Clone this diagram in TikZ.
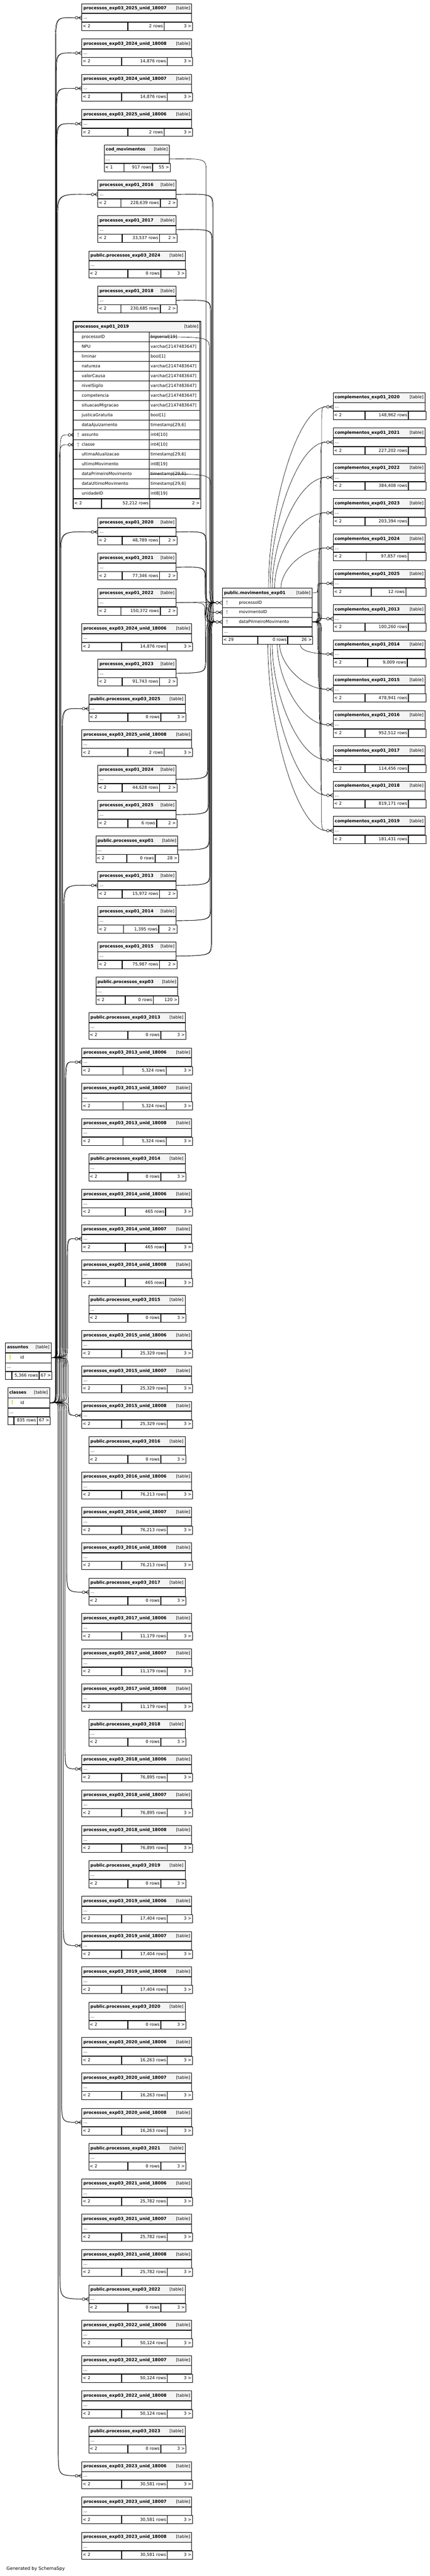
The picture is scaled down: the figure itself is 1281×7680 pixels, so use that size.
\documentclass[tikz,border=0pt]{standalone}
\usepackage{fontspec}
\setmainfont{DejaVu Sans}
\usetikzlibrary{calc}
\setlength{\parindent}{0pt}

\definecolor{hdrgray}{RGB}{244,244,244}
\definecolor{keygold}{RGB}{215,215,0}
\definecolor{keygray}{RGB}{165,165,165}
\newcommand{\tabfont}{\fontsize{12.5}{14}\selectfont}
\def\tabpar{<~2}

\tikzset{
  tcell/.style={draw=black, line width=1.1pt, anchor=north west, inner xsep=5pt, inner ysep=0pt,
    font=\tabfont, text height=9.5pt, text depth=2.5pt, align=left},
  hdr/.style={tcell, fill=hdrgray, minimum height=29pt},
  dotrow/.style={tcell, minimum height=24.5pt},
  tfoot/.style={tcell, inner xsep=3pt, minimum height=24.5pt},
  oring/.style={circle, draw=black, fill=white, line width=1.1pt, inner sep=0pt, minimum size=8pt},
  crowline/.style={draw=black, line width=1.1pt},
  fkline/.style={draw=black, line width=1pt},
  pkey/.pic={\fill (0,-3.5) circle (2.8); \draw[line width=1.7pt] (0,-1) -- (0,6.5); \draw[line width=1.4pt] (0,3.8) -- (2,3.8);}
}

\newcommand{\toprow}[1]{\pgfmathsetmacro\tp{#1<11 ? 10+(#1-1)*105.33 : 1543+(#1-11)*105.37}}

\newcommand{\tabsmall}[9]{%
  \pgfmathsetmacro\tw{#3-#2-10}%
  \pgfmathsetmacro\wa{#8-#2-6}%
  \pgfmathsetmacro\wb{#9-#8-6}%
  \pgfmathsetmacro\wc{#3-#9-6}%
  \node[hdr, text width=\tw pt] (#1-h) at (#2,#4) {\makebox[\hsize]{\textbf{#5}\hfill[table]}};
  \node[dotrow, text width=\tw pt] (#1-d) at (#1-h.south west) {...};
  \node[tfoot, text width=\wa pt] (#1-fa) at (#1-d.south west) {\tabpar};
  \node[tfoot, text width=\wb pt, align=right] (#1-fb) at (#1-fa.north east) {#6~rows};
  \node[tfoot, text width=\wc pt, align=right] (#1-fc) at (#1-fb.north east) {#7};
}

\newcommand{\crowat}[3]{%
  \node[oring] (#1) at ($(#2.west)+(-#3,0)$) {};
  \draw[crowline] (#1.east) -- ($(#2.west)+(0,-5.5)$)
    (#1.east) -- (#2.west)
    (#1.east) -- ($(#2.west)+(0,5.5)$);
}

\newcommand{\fk}[6]{%
  \pgfmathsetmacro\ra{max(-#6,min(#6,(#4-#2)/2))}%
  \pgfmathsetmacro\rb{max(-2*#6,min(2*#6,(#4-#2)/2))}%
  \pgfmathsetmacro\ya{#2+\ra}%
  \pgfmathsetmacro\yb{#4-\rb}%
  \draw[fkline] (#1) .. controls (#5,#2) .. (#5,\ya) -- (#5,\yb) .. controls (#5,#4) .. (#3);
}

\begin{document}
\begin{tikzpicture}[x=1pt, y=-1pt]
\fill[white] (0,0) rectangle (1281,7680);
\useasboundingbox (0,0) rectangle (1281,7680);

\foreach \i/\xl/\xr/\ttl/\rw/\kd/\sa/\sb in {
  1/243/570.5/processos\_exp03\_2025\_unid\_18007/2/3/380/487,
  2/243/570.5/processos\_exp03\_2024\_unid\_18008/{14,876}/3/361/496,
  3/243/570.5/processos\_exp03\_2024\_unid\_18007/{14,876}/3/361/496,
  4/243/570.5/processos\_exp03\_2025\_unid\_18006/2/3/380/487,
  5/310/504/cod\_movimentos/917/55/368/452,
  6/291/524/processos\_exp01\_2016/{228,639}/2/359/475,
  7/291/524/processos\_exp01\_2017/{33,537}/2/362.5/473,
  8/264/551/public.processos\_exp03\_2024/0/3/380/477,
  9/291/524/processos\_exp01\_2018/{230,685}/2/359/475,
  11/291/524/processos\_exp01\_2020/{48,789}/2/362.5/473,
  12/291/524/processos\_exp01\_2021/{77,346}/2/362.5/473,
  13/291/524/processos\_exp01\_2022/{150,372}/2/359/475,
  14/243/570.5/processos\_exp03\_2024\_unid\_18006/{14,876}/3/361/496,
  15/291/524/processos\_exp01\_2023/{91,743}/2/362.5/473,
  16/264/551/public.processos\_exp03\_2025/0/3/380/477,
  17/243/570.5/processos\_exp03\_2025\_unid\_18008/2/3/380/487,
  18/291/524/processos\_exp01\_2024/{44,628}/2/362.5/473,
  19/291/524/processos\_exp01\_2025/6/2/379.5/464,
  20/285/529/public.processos\_exp01/0/28/376/460,
  21/291/524/processos\_exp01\_2013/{15,972}/2/362.5/473,
  22/291/524/processos\_exp01\_2014/{1,395}/2/366.5/470.5,
  23/291/524/processos\_exp01\_2015/{75,987}/2/362.5/473,
  24/285/529/public.processos\_exp03/0/120/372/454.5} {
  \toprow{\i}
  \ifnum\i=5 \def\tabpar{<~1}\fi
  \tabsmall{t\i}{\xl}{\xr}{\tp}{\ttl}{\rw}{\kd~>}{\sa}{\sb}
}

\foreach \yr/\rw/\sa/\sb [count=\n from 0] in {2013/{5,324}/365/493, 2014/465/372/491,
  2015/{25,329}/361/496, 2016/{76,213}/361/496, 2017/{11,179}/361/496, 2018/{76,895}/361/496,
  2019/{17,404}/361/496, 2020/{16,263}/361/496, 2021/{25,782}/361/496, 2022/{50,124}/361/496,
  2023/{30,581}/361/496} {
  \pgfmathtruncatemacro\ip{25+4*\n}
  \toprow{\ip}
  \tabsmall{t\ip}{264}{551}{\tp}{public.processos\_exp03\_\yr}{0}{3~>}{380}{477}
  \foreach \u [count=\m] in {18006,18007,18008} {
    \pgfmathtruncatemacro\iu{\ip+\m}
    \toprow{\iu}
    \tabsmall{t\iu}{243}{570.5}{\tp}{processos\_exp03\_\yr\_unid\_\u}{\rw}{3~>}{\sa}{\sb}
  }
}

\node[hdr, text width=367pt, minimum height=31pt] (t10-h) at (218,958.5) {\makebox[\hsize]{\textbf{processos\_exp01\_2019}\hfill[table]}};
\foreach \nm/\ty [count=\j] in {processoID/bigserial[19], NPU/varchar[2147483647], liminar/bool[1],
  natureza/varchar[2147483647], valorCausa/varchar[2147483647], nivelSigilo/varchar[2147483647],
  competencia/varchar[2147483647], situacaoMigracao/varchar[2147483647], justicaGratuita/bool[1],
  dataAjuizamento/{timestamp[29,6]}, assunto/int4[10], classe/int4[10], ultimaAtualizacao/{timestamp[29,6]},
  ultimoMovimento/int8[19], dataPrimeiroMovimento/{timestamp[29,6]}, dataUltimoMovimento/{timestamp[29,6]},
  unidadeID/int8[19]} {
  \pgfmathsetmacro\ry{989.5+(\j-1)*29.2}
  \node[tcell, text width=216pt, minimum height=29.2pt] (t10-r\j) at (218,\ry) {\hspace*{20pt}\nm};
  \node[tcell, inner xsep=4pt, text width=143pt, minimum height=29.2pt] (t10-y\j) at (444,\ry) {\ty};
}
\node[tfoot, text width=77pt, minimum height=28pt] (t10-fa) at (t10-r17.south west) {<~2};
\node[tfoot, text width=137pt, minimum height=28pt, align=right] (t10-fb) at (t10-fa.north east) {52,212~rows};
\node[tfoot, text width=145pt, minimum height=28pt, align=right] (t10-fc) at (t10-fb.north east) {2~>};
\draw[line width=3pt] (t10-h.north west) rectangle (t10-fc.south east);
\pic[keygray] at (233,1296.1) {pkey};
\pic[keygray] at (233,1325.3) {pkey};

\node[hdr, text width=257pt, minimum height=29.5pt] (mv-h) at (662,1752.5) {\makebox[\hsize]{\textbf{public.movimentos\_exp01}\hfill[table]}};
\foreach \nm [count=\j] in {processoID, movimentoID, dataPrimeiroMovimento} {
  \pgfmathsetmacro\ry{1782+(\j-1)*28.7}
  \node[tcell, text width=257pt, minimum height=28.7pt] (mv-r\j) at (662,\ry) {\hspace*{44pt}\nm};
  \pic[keygray] at (676,\ry+14.35) {pkey};
}
\node[dotrow, text width=257pt, minimum height=26pt] (mv-d) at (mv-r3.south west) {...};
\node[tfoot, text width=99pt, minimum height=23pt] (mv-fa) at (mv-d.south west) {<~29};
\node[tfoot, text width=82pt, minimum height=23pt, align=right] (mv-fb) at (mv-fa.north east) {0~rows};
\node[tfoot, text width=68pt, minimum height=23pt, align=right] (mv-fc) at (mv-fb.north east) {26~>};

\foreach \yr/\rw/\sa/\sb [count=\k] in {2020/{148,962}/1086/1214.6, 2021/{227,202}/1086/1214.6,
  2022/{384,408}/1086/1214.6, 2023/{203,394}/1086/1214.6, 2024/{97,857}/1090/1213.5, 2025/12/1105/1207,
  2013/{100,260}/1086/1214.6, 2014/{9,009}/1094/1211, 2015/{478,941}/1086/1214.6,
  2016/{952,512}/1086/1214.6, 2017/{114,456}/1086/1214.6, 2018/{819,171}/1086/1214.6,
  2019/{181,431}/1086/1214.6} {
  \pgfmathsetmacro\tp{1170+(\k-1)*105.3}
  \tabsmall{c\k}{992}{1266}{\tp}{complementos\_exp01\_\yr}{\rw}{}{\sa}{\sb}
}

\node[tcell, fill=hdrgray, text width=126.4pt, minimum height=30pt] (as-h) at (15.6,4002) {\makebox[\hsize]{\textbf{assuntos}\hfill[table]}};
\node[tcell, text width=126.4pt, minimum height=29pt] (as-id) at (as-h.south west) {\hspace*{39pt}id};
\node[dotrow, text width=126.4pt] (as-d) at (as-id.south west) {...};
\node[tfoot, text width=11.9pt, minimum height=23.5pt] (as-fa) at (as-d.south west) {};
\node[tfoot, text width=74.8pt, minimum height=23.5pt, align=right] (as-fb) at (as-fa.north east) {5,366~rows};
\node[tfoot, text width=31.7pt, minimum height=23.5pt, align=right] (as-fc) at (as-fb.north east) {67~>};
\pic[keygold] at (30,4046.5) {pkey};

\node[tcell, fill=hdrgray, text width=114.7pt, minimum height=29.8pt] (cl-h) at (22.3,4136.6) {\makebox[\hsize]{\textbf{classes}\hfill[table]}};
\node[tcell, text width=114.7pt, minimum height=28.6pt] (cl-id) at (cl-h.south west) {\hspace*{32.7pt}id};
\node[dotrow, text width=114.7pt, minimum height=25.4pt] (cl-d) at (cl-id.south west) {...};
\node[tfoot, text width=11.7pt, minimum height=23pt] (cl-fa) at (cl-d.south west) {};
\node[tfoot, text width=63pt, minimum height=23pt, align=right] (cl-fb) at (cl-fa.north east) {835~rows};
\node[tfoot, text width=32pt, minimum height=23pt, align=right] (cl-fc) at (cl-fb.north east) {67~>};
\pic[keygold] at (36.6,4180.7) {pkey};

\node[anchor=west, font=\fontsize{13.3}{15}\selectfont] (gen) at (16,7659) {Generated by SchemaSpy};

\foreach \i in {1,...,4,6,...,9,11,...,68} {
  \toprow{\i}
  \pgfmathsetmacro\yt{\tp+41.25}
  \crowat{t\i-o}{t\i-d}{15}
  \pgfmathsetmacro\bx{205-abs(\yt-4046.5)/105}
  \fk{as-id.east}{4046.5}{t\i-o.west}{\yt}{\bx}{40}
  \pgfmathsetmacro\bx{204-abs(\yt-4180.7)/105}
  \fk{cl-id.east}{4180.7}{t\i-o.west}{\yt}{\bx}{40}
}
\crowat{t10-oa}{t10-r11}{11}
\crowat{t10-oc}{t10-r12}{11}
\fk{as-id.east}{4046.5}{t10-oa.west}{1296.1}{179}{40}
\fk{cl-id.east}{4180.7}{t10-oc.west}{1325.3}{177}{40}

\crowat{mv-o1}{mv-r1}{15}
\crowat{mv-o2}{mv-r2}{15}
\crowat{mv-o3}{mv-r3}{15}
\foreach \i in {6,7,9,11,12,13,15,18,19,20,21,22,23} {
  \toprow{\i}
  \pgfmathsetmacro\ys{\tp+41.25}
  \pgfmathsetmacro\bx{608+abs(\ys-1825)/50}
  \fk{t\i-d.east}{\ys}{mv-o1.west}{1796.35}{\bx}{40}
  \pgfmathsetmacro\bx{\bx+2}
  \fk{t\i-d.east}{\ys}{mv-o3.west}{1853.75}{\bx}{40}
}
\fk{t10-r1.east}{1004.1}{mv-o1.west}{1796.35}{624}{40}
\fk{t10-r15.east}{1412.9}{mv-o3.west}{1853.75}{628}{40}
\fk{t5-d.east}{472.6}{mv-o2.west}{1825.05}{614}{40}

\foreach \k in {1,...,13} {
  \pgfmathsetmacro\yt{1170+(\k-1)*105.3+41.25}
  \crowat{c\k-o}{c\k-d}{15}
  \pgfmathsetmacro\bx{944+abs(\yt-1853.75)/45}
  \fk{mv-r3.east}{1853.75}{c\k-o.west}{\yt}{\bx}{30}
}
\foreach \k/\sx in {1/800,2/805,3/811,4/818,5/837} {
  \pgfmathsetmacro\yt{1170+(\k-1)*105.3+41.25}
  \pgfmathsetmacro\ya{1752.5-0.45*(1752.5-\yt)}
  \pgfmathsetmacro\xb{\sx+0.5*(973-\sx)}
  \draw[fkline] ($(mv-h.north west)+(\sx-662,0)$) .. controls (\sx,\ya) and (\xb,\yt) .. (c\k-o.west);
}
\foreach \k/\sx in {9/833,10/826,11/811,12/805,13/798} {
  \pgfmathsetmacro\yt{1170+(\k-1)*105.3+41.25}
  \pgfmathsetmacro\ya{1917.1+0.45*(\yt-1917.1)}
  \pgfmathsetmacro\xb{\sx+0.5*(973-\sx)}
  \draw[fkline] ($(mv-fa.south west)+(\sx-662,0)$) .. controls (\sx,\ya) and (\xb,\yt) .. (c\k-o.west);
}
\fk{mv-h.east}{1767.25}{c6-o.west}{1737.75}{946}{12}
\fk{mv-r2.east}{1825.05}{c7-o.west}{1843.05}{950}{8}
\draw[fkline] (mv-fc.south) .. controls (892,1940) and (930,1948.35) .. (c8-o.west);
\end{tikzpicture}
\end{document}
